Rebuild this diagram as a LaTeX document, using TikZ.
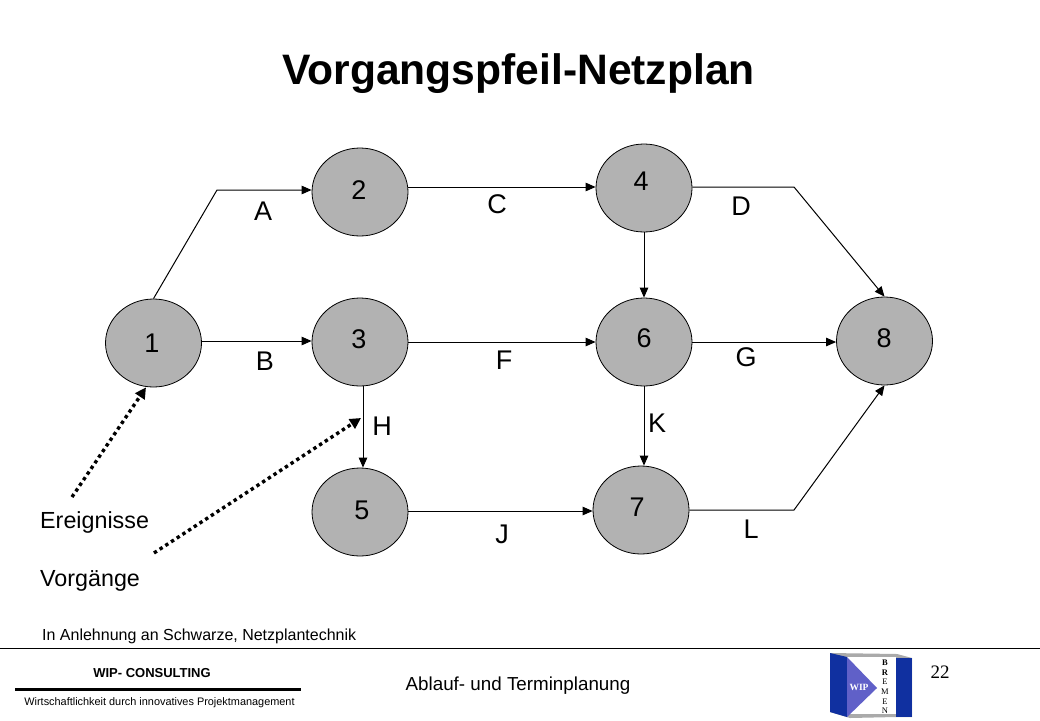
\documentclass[tikz,border=0pt]{standalone}
\usepackage{fontspec}
\setmainfont{Liberation Sans}
\newfontfamily\serifface{Liberation Serif}
\usetikzlibrary{arrows.meta,shapes.geometric}
\definecolor{nodegray}{RGB}{178,178,178}
\definecolor{logoblue}{RGB}{16,48,160}
\definecolor{logopurple}{RGB}{96,96,200}
\definecolor{logogray}{RGB}{170,170,170}
\tikzset{
  event/.style={ellipse,draw=black,fill=nodegray,line width=0.8pt,minimum width=96pt,minimum height=88pt,inner sep=0pt,font=\fontsize{27}{27}\selectfont},
  lbl/.style={inner sep=0pt,font=\fontsize{27}{27}\selectfont},
  txt/.style={inner sep=0pt,font=\fontsize{23.3}{23.3}\selectfont},
  act/.style={line width=1pt,-{Triangle[length=10pt,width=8.5pt]}},
  hint/.style={line width=3.4pt,line cap=butt,dash pattern=on 3.4pt off 3.4pt,-{Triangle[length=11pt,width=11pt]}},
}
\begin{document}
\begin{tikzpicture}[x=1pt,y=-1pt]
\useasboundingbox (0,0) rectangle (1040,720);
\fill[white] (0,0) rectangle (1040,720);
\node[inner sep=0pt,font=\bfseries\fontsize{42.6}{42.6}\selectfont] (title) at (518.5,74) {Vorgangspfeil-Netzplan};

\node[event] (n1) at (153.5,343) {};
\node[event] (n2) at (360,192) {};
\node[event] (n3) at (360,342) {};
\node[event] (n4) at (644,188) {};
\node[event] (n5) at (360,512) {};
\node[event] (n6) at (644,342) {};
\node[event] (n7) at (641,510) {};
\node[event] (n8) at (884.5,341) {};
\node[lbl] (d1) at (152,343) {1};
\node[lbl] (d2) at (359,190) {2};
\node[lbl] (d3) at (359,339) {3};
\node[lbl] (d4) at (641,181) {4};
\node[lbl] (d5) at (362,510) {5};
\node[lbl] (d6) at (644,338) {6};
\node[lbl] (d7) at (637,507) {7};
\node[lbl] (d8) at (884,338) {8};

\coordinate (ca) at (217,190);
\coordinate (cd) at (794,187);
\coordinate (cl) at (794,510);
\coordinate (e1) at (72,497);
\coordinate (e2) at (154,553);
\coordinate (h2) at (361,418);

\draw[act] (n1.north) -- (ca) -- (n2.west |- ca);
\draw[act] (n2.east |- 0,187) -- (n4.west |- 0,187);
\draw[act] (n4.east |- cd) -- (cd) -- (n8.north);
\draw[act] (n1.east |- 0,341) -- (n3.west |- 0,341);
\draw[act] (n3.east) -- (n6.west);
\draw[act] (n6.east |- 0,342) -- (n8.west |- 0,342);
\draw[act] (n4.south) -- (n6.north);
\draw[act] (n6.south) -- (n6.south |- n7.north);
\draw[act] ([xshift=3pt]n3.south) -- ([xshift=3pt]n3.south |- n5.north);
\draw[act] (n5.east |- 0,511) -- (n7.west |- 0,511);
\draw[act] (n7.east) -- (cl) -- (n8.south);
\draw[hint] (e1) -- (n1.south -| 146,0);
\draw[hint] (e2) -- (h2);

\node[lbl] (la) at (263,211) {A};
\node[lbl] (lb) at (265,361) {B};
\node[lbl] (lc) at (497,204) {C};
\node[lbl] (ld) at (741,206) {D};
\node[lbl] (lf) at (504,360) {F};
\node[lbl] (lg) at (746,357) {G};
\node[lbl] (lh) at (382,426) {H};
\node[lbl] (lk) at (657,423) {K};
\node[lbl] (lj) at (502,534) {J};
\node[lbl] (ll) at (751,529) {L};

\node[txt,anchor=west] (ereignisse) at (40,522) {Ereignisse};
\node[txt,anchor=west] (vorgaenge) at (40,581) {Vorgänge};
\node[inner sep=0pt,anchor=west,font=\fontsize{16}{16}\selectfont] (source) at (42,636) {In Anlehnung an Schwarze, Netzplantechnik};

\draw[line width=1pt] (0,648.5) -- (1040,648.5);
\draw[line width=3pt] (15,689.5) -- (301,689.5);
\node[inner sep=0pt,font=\bfseries\fontsize{13}{13}\selectfont] (wip) at (152,673) {WIP- CONSULTING};
\node[inner sep=0pt,font=\fontsize{10.9}{10.9}\selectfont] (claim) at (159.5,703) {Wirtschaftlichkeit durch innovatives Projektmanagement};
\node[inner sep=0pt,font=\fontsize{18.8}{18.8}\selectfont] (topic) at (518,686) {Ablauf- und Terminplanung};
\node[inner sep=0pt,font=\serifface\fontsize{19}{19}\selectfont] (page) at (940,672) {22};

\fill[logogray] (830,653) -- (897,654) -- (912,658) -- (912,717) -- (896,717) -- (850,718) -- (830,712) -- cycle;
\fill[white] (847,657) rectangle (896,714);
\fill[logoblue] (830,653) -- (847,657) -- (847,717) -- (830,712) -- cycle;
\fill[logoblue] (896,658) -- (912,658) -- (912,717) -- (896,717) -- cycle;
\fill[logopurple] (847,657) -- (877,688) -- (847,717) -- cycle;
\node[inner sep=0pt,text=white,font=\serifface\bfseries\fontsize{9.5}{9.5}\selectfont] (wiplogo) at (859,687) {WIP};
\node[inner sep=0pt,align=center,font=\serifface\fontsize{8.5}{9.6}\selectfont] (bremen) at (885,687) {\textbf{B}\\\textbf{R}\\E\\M\\E\\N};
\end{tikzpicture}
\end{document}
